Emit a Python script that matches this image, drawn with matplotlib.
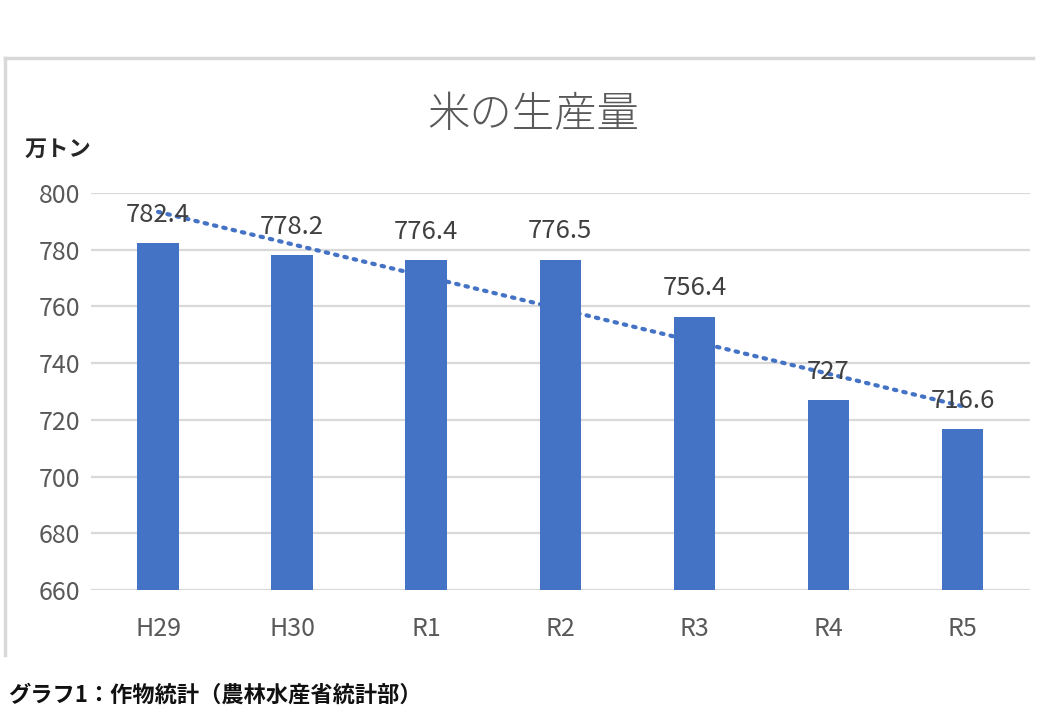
import numpy as np
import matplotlib
matplotlib.use("Agg")
import matplotlib.pyplot as plt
from matplotlib.lines import Line2D

plt.rcParams["font.family"] = ["Noto Sans CJK JP", "DejaVu Sans"]

# data (万トン)
years = ["H29", "H30", "R1", "R2", "R3", "R4", "R5"]
production = [782.4, 778.2, 776.4, 776.5, 756.4, 727, 716.6]
value_labels = ["782.4", "778.2", "776.4", "776.5", "756.4", "727", "716.6"]
yticks = [660, 680, 700, 720, 740, 760, 780, 800]

bar_color = "#4472C4"
grid_color = "#D9D9D9"
text_gray = "#595959"
label_gray = "#404040"

fig = plt.figure(figsize=(10.4, 7.2), dpi=100)
ax = fig.add_axes([0.0875, 0.1806, 0.9025, 0.5514])

x = np.arange(len(years))
ax.bar(x, production, width=0.31, color=bar_color, zorder=3)

# linear trendline
coef = np.polyfit(x, production, 1)
ax.plot(x, np.polyval(coef, x), linestyle=(0, (0.6, 1.7)), dash_capstyle="round",
        color=bar_color, linewidth=3, zorder=4)

for xi, v, lab in zip(x, production, value_labels):
    ax.annotate(lab, (xi, v), xytext=(0, 11), textcoords="offset points",
                ha="center", va="bottom", fontsize=18.5, color=label_gray, zorder=5)

ax.set_ylim(660, 800)
ax.set_xlim(-0.5, len(years) - 0.5)
ax.set_yticks(yticks)
ax.set_xticks(x)
ax.set_xticklabels(years)
ax.yaxis.grid(True, color=grid_color, linewidth=1.6, zorder=0)
ax.set_axisbelow(True)
for s in ax.spines.values():
    s.set_visible(False)
ax.tick_params(axis="both", length=0, labelsize=18, labelcolor=text_gray)
ax.tick_params(axis="y", pad=8)
ax.tick_params(axis="x", pad=19)

# chart frame (top and left edges)
fig.add_artist(Line2D([0.005, 0.993], [0.919, 0.919], color=grid_color, linewidth=2.5,
                      transform=fig.transFigure))
fig.add_artist(Line2D([0.005, 0.005], [0.919, 0.09], color=grid_color, linewidth=2.5,
                      transform=fig.transFigure))

fig.text(0.513, 0.84, "米の生産量", ha="center", va="center", fontsize=30.5,
         color=text_gray, fontweight="light")
fig.text(0.024, 0.792, "万トン", ha="left", va="center", fontsize=16,
         color="#262626", fontweight="bold")
fig.text(0.008, 0.034, "グラフ1：作物統計（農林水産省統計部）", ha="left", va="center",
         fontsize=16, color="#111111", fontweight="bold")

fig.savefig("out.png", dpi=100, facecolor="white")
